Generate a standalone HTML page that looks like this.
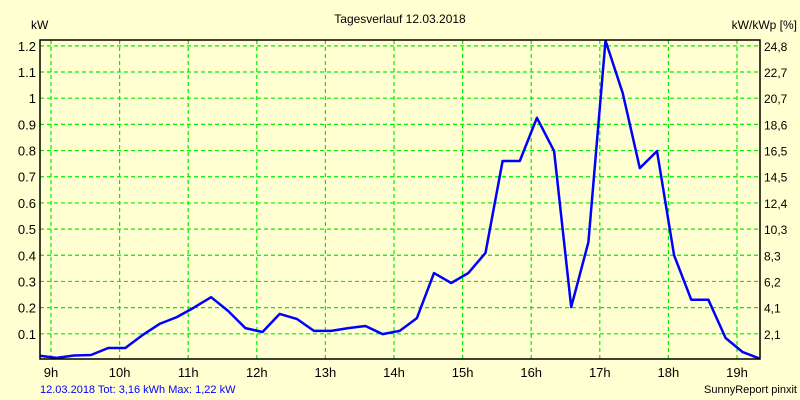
<!DOCTYPE html>
<html><head><meta charset="utf-8"><style>
body{margin:0;background:#ffffd2;}
svg{display:block;font-family:"Liberation Sans",sans-serif;font-size:12px;}
</style></head><body>
<svg id="chart" width="800" height="400">
<rect x="0" y="0" width="800" height="400" fill="#ffffd2"/>
<text x="400" y="23" text-anchor="middle" fill="#000">Tagesverlauf 12.03.2018</text>
<text x="31" y="29" fill="#000">kW</text>
<text x="797" y="29" text-anchor="end" fill="#000">kW/kWp [%]</text>
<g id="grid"></g>
<g id="yl"></g>
<g id="yr"></g>
<g id="xl"></g>
<polyline id="line" fill="none" stroke="#0000ff" stroke-width="2.5" stroke-linejoin="round"/>
<rect x="40" y="40" width="720" height="319" fill="none" stroke="#000" stroke-width="1.5"/>
<text x="40" y="393" fill="#0000ff" font-size="11">12.03.2018 Tot: 3,16 kWh Max: 1,22 kW</text>
<text x="797" y="393" text-anchor="end" fill="#000" font-size="11">SunnyReport pinxit</text>
</svg>
<script>
const startMinutes = 530;
const stepMinutes = 15;
const values = [0.016,0.008,0.017,0.019,0.046,0.046,0.095,0.138,0.164,0.20,0.24,0.187,0.122,0.107,0.176,0.157,0.111,0.111,0.122,0.13,0.099,0.111,0.16,0.332,0.294,0.332,0.409,0.76,0.76,0.925,0.798,0.202,0.45,1.22,1.02,0.733,0.798,0.40,0.23,0.23,0.084,0.03,0.005];
const leftTicks = [0.1,0.2,0.3,0.4,0.5,0.6,0.7,0.8,0.9,1,1.1,1.2];
const leftLabels = ["0.1","0.2","0.3","0.4","0.5","0.6","0.7","0.8","0.9","1","1.1","1.2"];
const rightLabels = ["2,1","4,1","6,2","8,3","10,3","12,4","14,5","16,5","18,6","20,7","22,7","24,8"];
const hours = [9,10,11,12,13,14,15,16,17,18,19];

const NS="http://www.w3.org/2000/svg";
function y(v){return 360 - v*261.8;}
function x(min){return 51 + (min-540)*68.6/60;}
function mk(tag,attrs,parent,txt){const e=document.createElementNS(NS,tag);for(const k in attrs)e.setAttribute(k,attrs[k]);if(txt!==undefined)e.textContent=txt;parent.appendChild(e);return e;}
const grid=document.getElementById('grid'),yl=document.getElementById('yl'),yr=document.getElementById('yr'),xl=document.getElementById('xl');
leftTicks.forEach((v,i)=>{
  const l=mk('line',{x1:40,x2:760,y1:y(v),y2:y(v),stroke:'#00ee00','stroke-width':1.2,'stroke-dasharray':'4,3'},grid);
  
  
  const t=mk('text',{x:36,y:y(v)+5,'text-anchor':'end',fill:'#000','font-size':13},yl,leftLabels[i]);
  
  
  const r=mk('text',{x:764,y:y(v)+5,fill:'#000'},yr,rightLabels[i]);
  
  
});
hours.forEach(h=>{
  const xx=x(h*60);
  const l=mk('line',{x1:xx,x2:xx,y1:40,y2:359,stroke:'#00ee00','stroke-width':1.2,'stroke-dasharray':'4,3'},grid);
  
  
  const t=mk('text',{x:xx,y:377,'text-anchor':'middle',fill:'#000','font-size':13},xl,h+'h');
  
  
});
document.getElementById('line').setAttribute('points',values.map((v,i)=>x(startMinutes+i*stepMinutes).toFixed(1)+','+Math.max(40,y(v)).toFixed(1)).join(' '));
</script>
</body></html>
